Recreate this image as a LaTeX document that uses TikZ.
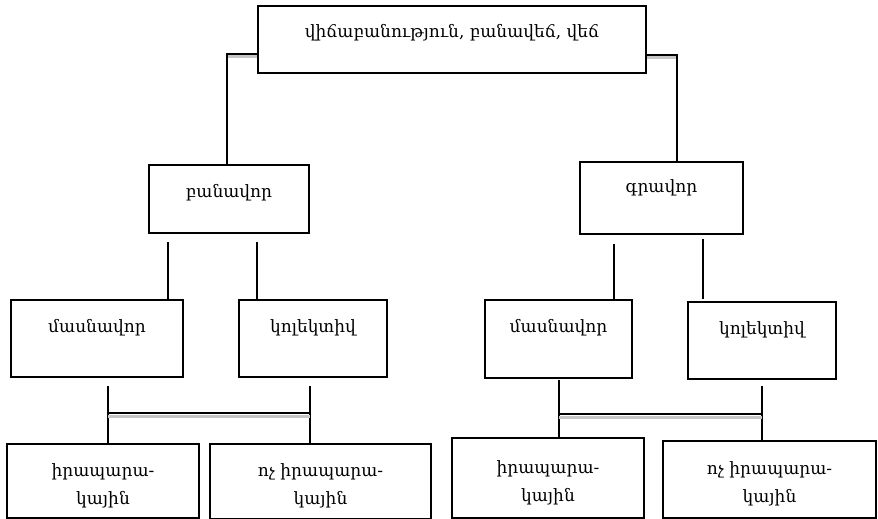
\documentclass[tikz,border=0pt]{standalone}
\usepackage{fontspec}
\setmainfont{DejaVu Serif}
\usetikzlibrary{positioning}

\begin{document}
\begin{tikzpicture}[x=1pt,y=-1pt,
                    box/.style={draw,line width=2pt,inner sep=0pt,anchor=north},
                    txt/.style={font=\fontsize{17}{28}\selectfont,align=center},
                    link/.style={line width=2pt},
                    under/.style={draw=gray!45,line width=3pt}]
  \useasboundingbox (0,0) rectangle (878,519);

  %Boxes%
  \node[box,minimum width=388pt,minimum height=67pt] (top) at (452,5) {};
  \node[box,minimum width=160pt,minimum height=68pt] (ban) at (229,164) {};
  \node[box,minimum width=163pt,minimum height=72pt] (grav) at (661.5,161) {};
  \node[box,minimum width=172pt,minimum height=77pt] (masl) at (97,299) {};
  \node[box,minimum width=148pt,minimum height=77pt] (koll) at (313,299) {};
  \node[box,minimum width=147pt,minimum height=78pt] (masr) at (558.5,299) {};
  \node[box,minimum width=148pt,minimum height=77pt] (kolr) at (762,301) {};
  \node[box,minimum width=192pt,minimum height=74pt] (iral) at (103,443) {};
  \node[box,minimum width=221pt,minimum height=75pt] (noil) at (320.5,443) {};
  \node[box,minimum width=192pt,minimum height=80pt] (irar) at (548,437) {};
  \node[box,minimum width=213pt,minimum height=77pt] (noir) at (769.5,440) {};

  %Texts%
  \node[txt] (toptxt) at ([yshift=-28pt]top.north) {վիճաբանություն, բանավեճ, վեճ};
  \node[txt] (bantxt) at ([yshift=-29pt]ban.north) {բանավոր};
  \node[txt] (gravtxt) at ([yshift=-27pt]grav.north) {գրավոր};
  \node[txt] (masltxt) at ([yshift=-29pt]masl.north) {մասնավոր};
  \node[txt] (kolltxt) at ([yshift=-29pt]koll.north) {կոլեկտիվ};
  \node[txt] (masrtxt) at ([yshift=-29pt]masr.north) {մասնավոր};
  \node[txt] (kolrtxt) at ([yshift=-29pt]kolr.north) {կոլեկտիվ};
  \node[txt] (iraltxt) at ([yshift=-43pt]iral.north) {իրապարա-\\կային};
  \node[txt] (noiltxt) at ([yshift=-43pt]noil.north) {ոչ իրապարա-\\կային};
  \node[txt] (irartxt) at ([yshift=-46pt]irar.north) {իրապարա-\\կային};
  \node[txt] (noirtxt) at ([yshift=-44pt]noir.north) {ոչ իրապարա-\\կային};

  %Upper links%
  \draw[under] ([yshift=-52pt]top.north west) -- ++(-31,0);
  \draw[link] ([yshift=-49pt]top.north west) -| ([xshift=-2pt]ban.north);
  \draw[under] ([yshift=-53pt]top.north east) -- ++(31,0);
  \draw[link] ([yshift=-50pt]top.north east) -| ([xshift=15.5pt]grav.north);

  %Middle links%
  \draw[link] ([xshift=-16pt]masl.north east) -- ++(0,-57);
  \draw[link] ([xshift=19pt]koll.north west) -- ++(0,-57);
  \draw[link] ([xshift=-19pt]masr.north east) -- ++(0,-55);
  \draw[link] ([xshift=16pt,yshift=2pt]kolr.north west) -- ++(0,-60);

  %Lower links%
  \coordinate (lla) at ([xshift=5pt]iral.north);
  \coordinate (llb) at ([xshift=-10.5pt]noil.north);
  \draw[link] (lla) -- ++(0,-57);
  \draw[link] (llb) -- ++(0,-57);
  \draw[under] ([yshift=27pt]lla) -- ([yshift=27pt]llb);
  \draw[link] ([yshift=30pt]lla) -- ([yshift=30pt]llb);

  \coordinate (rla) at ([xshift=11pt]irar.north);
  \coordinate (rlb) at ([xshift=-7.5pt]noir.north);
  \draw[link] (rla) -- ++(0,-57);
  \draw[link] (rlb) -- ++(0,-54);
  \draw[under] ([yshift=20pt]rla) -- ++(203,0);
  \draw[link] ([yshift=23pt]rla) -- ++(203,0);
\end{tikzpicture}
\end{document}
